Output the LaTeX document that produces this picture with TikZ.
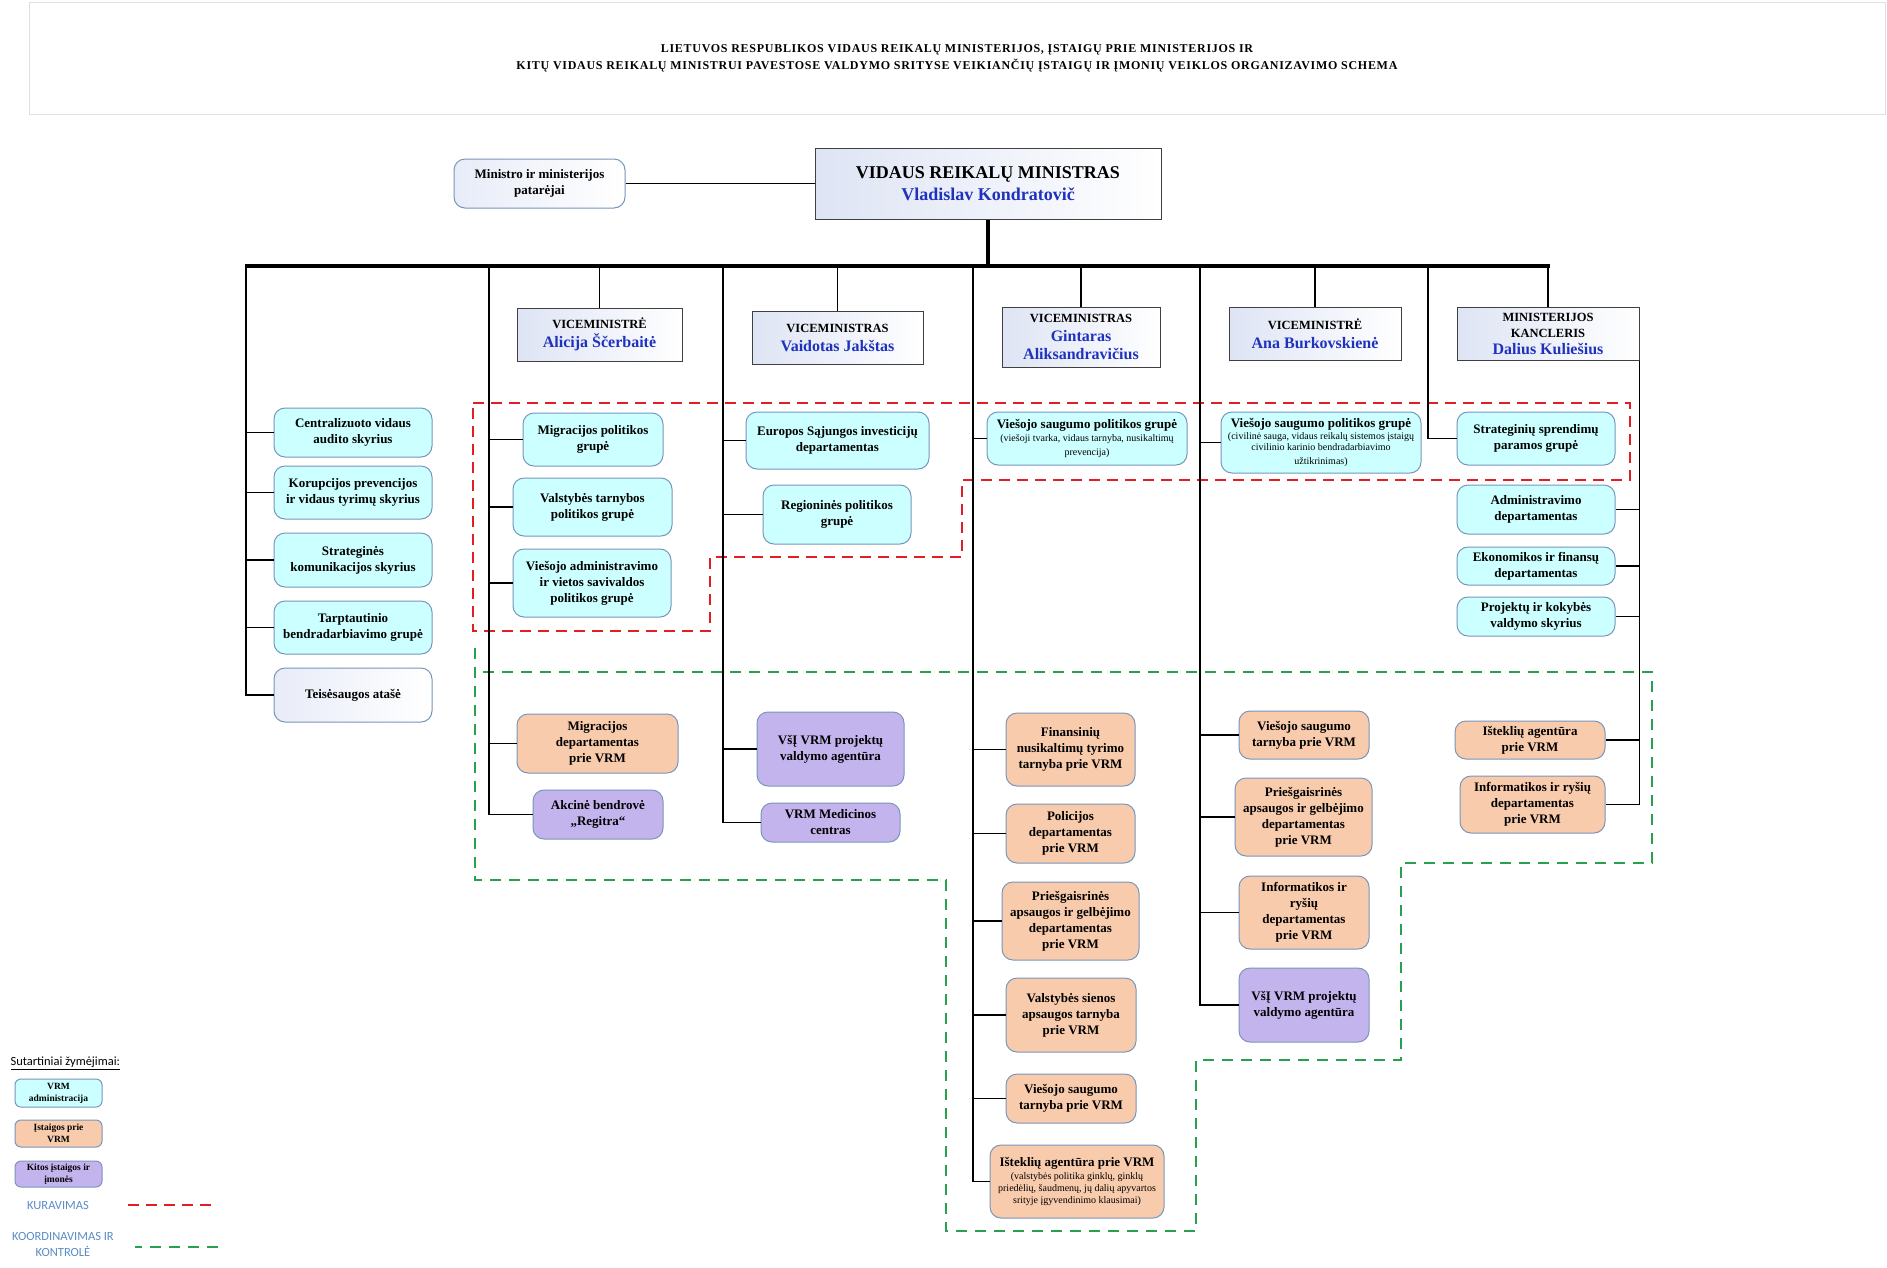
\documentclass[tikz,border=0pt]{standalone}
\usepackage{fontspec}
\setmainfont{Liberation Serif}
\newfontfamily\legfont{Carlito}
\newfontfamily\hdrfont[LetterSpace=6]{Liberation Serif}
\usetikzlibrary{calc}
\definecolor{cyanc}{RGB}{204,255,255}
\definecolor{orc}{RGB}{248,203,172}
\definecolor{purc}{RGB}{196,180,238}
\definecolor{bordc}{RGB}{120,150,185}
\definecolor{namec}{RGB}{30,50,190}
\definecolor{redd}{RGB}{225,30,35}
\definecolor{greend}{RGB}{40,160,80}
\definecolor{legc}{RGB}{90,140,200}
\definecolor{gradc}{RGB}{222,228,244}
\definecolor{gradw}{RGB}{232,236,248}
\newcommand\bxf{\fontsize{13}{16}\selectfont\bfseries}
\newcommand\smf{\fontsize{10}{12}\selectfont\mdseries}
\newcommand\nm[1]{{\color{namec}#1}}
\tikzset{
  obox/.style={rounded corners=11pt, draw=bordc, line width=1pt, align=center, font=\bxf, inner sep=1pt},
  cybox/.style={obox, fill=cyanc},
  orbox/.style={obox, fill=orc},
  pubox/.style={obox, fill=purc},
  whbox/.style={obox, left color=gradw, right color=white},
  vbox/.style={draw=black!75, line width=1pt, left color=gradc, right color=white, align=center, inner sep=1pt},
  conn/.style={line width=1.7pt},
  busl/.style={line width=3.4pt},
  reddash/.style={draw=redd, line width=2pt, dash pattern=on 11pt off 7pt},
  greendash/.style={draw=greend, line width=2pt, dash pattern=on 11pt off 8pt},
  legbox/.style={rounded corners=6pt, draw=bordc, line width=1pt, align=center, inner sep=1pt, font=\fontsize{9.5}{12}\selectfont\bfseries},
}
\begin{document}
\begin{tikzpicture}[x=1pt,y=-1pt]
\useasboundingbox (0,0) rectangle (1887,1267);
\fill[white] (0,0) rectangle (1887,1267);

% header
\node[draw=black!12, line width=1pt, minimum width=1856, minimum height=112, align=center,
  font=\hdrfont\fontsize{12}{17}\selectfont\bfseries] (hdr) at (957,58)
  {LIETUVOS RESPUBLIKOS VIDAUS REIKALŲ MINISTERIJOS, ĮSTAIGŲ PRIE MINISTERIJOS IR\\
   KITŲ VIDAUS REIKALŲ MINISTRUI PAVESTOSE VALDYMO SRITYSE VEIKIANČIŲ ĮSTAIGŲ IR ĮMONIŲ VEIKLOS ORGANIZAVIMO SCHEMA};

% dashed outlines
\draw[reddash] (473,403) -- (1630,403) -- (1630,480) -- (962,480) -- (962,557) -- (710,557) -- (710,631) -- (473,631) -- cycle;
\draw[greendash] (475,648) -- (475,880) -- (946,880) -- (946,1231) -- (1196,1231) -- (1196,1060) -- (1401,1060) -- (1401,863) -- (1652,863) -- (1652,672) -- (480,672);

% minister and advisors
\node[vbox, minimum width=346, minimum height=71, font=\fontsize{18}{22}\selectfont\bfseries] (min) at (988,183.5)
  {VIDAUS REIKALŲ MINISTRAS\\ \nm{Vladislav Kondratovič}};
\node[whbox, minimum width=171, minimum height=49] (adv) at (539.5,183.5) {Ministro ir ministerijos\\patarėjai};

% bus coordinates
\coordinate (b1) at (246,266);
\coordinate (b2) at (489,266);
\coordinate (b3) at (723,266);
\coordinate (b4) at (973,266);
\coordinate (b5) at (1200,266);
\coordinate (b6) at (1428,266);
\coordinate (bend) at (1548,266);

% vice ministers
\tikzset{vt/.style={vbox, font=\fontsize{12.5}{19}\selectfont\bfseries}}
\newcommand\vn[1]{{\fontsize{16}{19}\selectfont\color{namec}#1}}
\node[vt, minimum width=165, minimum height=53] (v1) at (599.5,334.5) {VICEMINISTRĖ\\ \vn{Alicija Ščerbaitė}};
\node[vt, minimum width=171, minimum height=53] (v2) at (837.5,337.5) {VICEMINISTRAS\\ \vn{Vaidotas Jakštas}};
\node[vt, minimum width=158, minimum height=60, font=\fontsize{12.5}{18.5}\selectfont\bfseries] (v3) at (1081,337) {VICEMINISTRAS\\ \vn{Gintaras}\\ \vn{Aliksandravičius}};
\node[vt, minimum width=172, minimum height=53] (v4) at (1315,333.5) {VICEMINISTRĖ\\ \vn{Ana Burkovskienė}};
\node[vt, minimum width=182, minimum height=53, font=\fontsize{12.5}{16.5}\selectfont\bfseries] (v5) at (1548,333.5) {MINISTERIJOS\\KANCLERIS\\ \vn{Dalius Kuliešius}};

% left column
\node[cybox, minimum width=158, minimum height=49] (a1) at (353,432.5) {Centralizuoto vidaus\\audito skyrius};
\node[cybox, minimum width=158, minimum height=53] (a2) at (353,492.5) {Korupcijos prevencijos\\ir vidaus tyrimų skyrius};
\node[cybox, minimum width=158, minimum height=54] (a3) at (353,560) {Strateginės\\komunikacijos skyrius};
\node[cybox, minimum width=158, minimum height=53] (a4) at (353,627.5) {Tarptautinio\\bendradarbiavimo grupė};
\node[whbox, minimum width=158, minimum height=54] (a5) at (353,695) {Teisėsaugos atašė};

% column 2
\node[cybox, minimum width=140, minimum height=53] (c21) at (593,439.5) {Migracijos politikos\\grupė};
\node[cybox, minimum width=159, minimum height=58] (c22) at (592.5,507) {Valstybės tarnybos\\politikos grupė};
\node[cybox, minimum width=158, minimum height=68] (c23) at (592,583) {Viešojo administravimo\\ir vietos savivaldos\\politikos grupė};
\node[orbox, minimum width=161, minimum height=59] (c24) at (597.5,743.5) {Migracijos\\departamentas\\prie VRM};
\node[pubox, minimum width=130, minimum height=49] (c25) at (598,814.5) {Akcinė bendrovė\\„Regitra“};

% column 3
\node[cybox, minimum width=183, minimum height=57] (c31) at (837.5,440.5) {Europos Sąjungos investicijų\\departamentas};
\node[cybox, minimum width=148, minimum height=59] (c32) at (837,514.5) {Regioninės politikos\\grupė};
\node[pubox, minimum width=147, minimum height=74] (c33) at (830.5,749) {VšĮ VRM projektų\\valdymo agentūra};
\node[pubox, minimum width=139, minimum height=39] (c34) at (830.5,822.5) {VRM Medicinos\\centras};

% column 4
\node[cybox, minimum width=200, minimum height=53] (c41) at (1087,438.5) {Viešojo saugumo politikos grupė\\[-3pt] \smf (viešoji tvarka, vidaus tarnyba, nusikaltimų\\[-2pt] \smf prevencija)};
\node[orbox, minimum width=129, minimum height=73] (c42) at (1070.5,749.5) {Finansinių\\nusikaltimų tyrimo\\tarnyba prie VRM};
\node[orbox, minimum width=129, minimum height=59] (c43) at (1070.5,833.5) {Policijos\\departamentas\\prie VRM};
\node[orbox, minimum width=137, minimum height=78] (c44) at (1070.5,921) {Priešgaisrinės\\apsaugos ir gelbėjimo\\departamentas\\prie VRM};
\node[orbox, minimum width=130, minimum height=74] (c45) at (1071,1015) {Valstybės sienos\\apsaugos tarnyba\\prie VRM};
\node[orbox, minimum width=130, minimum height=49] (c46) at (1071,1098.5) {Viešojo saugumo\\tarnyba prie VRM};
\node[orbox, minimum width=174, minimum height=73] (c47) at (1077,1181.5) {Išteklių agentūra prie VRM\\[-3pt] \smf (valstybės politika ginklų, ginklų\\[-4pt] \smf priedėlių, šaudmenų, jų dalių apyvartos\\[-4pt] \smf srityje įgyvendinimo klausimai)};

% column 5
\node[cybox, minimum width=200, minimum height=61] (c51) at (1321,442.5) {Viešojo saugumo politikos grupė\\[-4pt] \smf (civilinė sauga, vidaus reikalų sistemos įstaigų\\[-5pt] \smf civilinio karinio bendradarbiavimo\\[-2pt] \smf užtikrinimas)};
\node[orbox, minimum width=130, minimum height=48] (c52) at (1304,735) {Viešojo saugumo\\tarnyba prie VRM};
\node[orbox, minimum width=137, minimum height=78] (c53) at (1303.5,817) {Priešgaisrinės\\apsaugos ir gelbėjimo\\departamentas\\prie VRM};
\node[orbox, minimum width=130, minimum height=73] (c54) at (1304,912.5) {Informatikos ir\\ryšių\\departamentas\\prie VRM};
\node[pubox, minimum width=130, minimum height=74] (c55) at (1304,1005) {VšĮ VRM projektų\\valdymo agentūra};

% column 6 and chancellor
\node[cybox, minimum width=158, minimum height=53] (c61) at (1536,438.5) {Strateginių sprendimų\\paramos grupė};
\node[cybox, minimum width=158, minimum height=49] (k1) at (1536,509.5) {Administravimo\\departamentas};
\node[cybox, minimum width=158, minimum height=38] (k2) at (1536,566) {Ekonomikos ir finansų\\departamentas};
\node[cybox, minimum width=158, minimum height=39] (k3) at (1536,616.5) {Projektų ir kokybės\\valdymo skyrius};
\node[orbox, minimum width=150, minimum height=38] (k4) at (1530,740) {Išteklių agentūra\\prie VRM};
\node[orbox, minimum width=145, minimum height=57] (k5) at (1532.5,804.5) {Informatikos ir ryšių\\departamentas\\prie VRM};

% connectors
\draw[conn] (adv.east) -- (min.west);
\draw[busl] (min.south) -- (min.south |- b1);
\draw[busl] ($(b1)+(-1.5,0)$) -- ($(bend)+(1.5,0)$);
\foreach \v in {v1,v2,v3,v4,v5} \draw[conn] (\v.north) -- (\v.north |- b1);
\foreach \n in {a1,a2,a3,a4,a5} \draw[conn] (b1) |- (\n.west);
\foreach \n in {c21,c22,c23,c24,c25} \draw[conn] (b2) |- (\n.west);
\foreach \n in {c31,c32,c33,c34} \draw[conn] (b3) |- (\n.west);
\foreach \n in {c41,c42,c43,c44,c45,c46,c47} \draw[conn] (b4) |- (\n.west);
\foreach \n in {c51,c52,c53,c54,c55} \draw[conn] (b5) |- (\n.west);
\draw[conn] (b6) |- (c61.west);
\foreach \n in {k1,k2,k3,k4,k5} \draw[conn] (v5.south east) |- (\n.east);

% legend
\node[anchor=west, font=\legfont\fontsize{12.5}{14}\selectfont] (lgt) at (7,1063) {\underline{Sutartiniai žymėjimai:}};
\node[legbox, fill=cyanc, minimum width=87, minimum height=28] (lg1) at (58.5,1093) {VRM\\administracija};
\node[legbox, fill=orc, minimum width=87, minimum height=27] (lg2) at (58.5,1133.5) {Įstaigos prie\\VRM};
\node[legbox, fill=purc, minimum width=87, minimum height=26] (lg3) at (58.5,1174) {Kitos įstaigos ir\\įmonės};
\node[font=\legfont\fontsize{12.5}{15}\selectfont, text=legc] (lg4) at (58,1205) {KURAVIMAS};
\node[font=\legfont\fontsize{12.5}{16}\selectfont, text=legc, align=center] (lg5) at (63,1244) {KOORDINAVIMAS IR\\KONTROLĖ};
\coordinate (r1) at (128,1205); \coordinate (r2) at (218,1205);
\coordinate (g1) at (135,1247); \coordinate (g2) at (218,1247);
\draw[reddash] (r1) -- (r2);
\draw[greendash] (g2) -- (g1);
\end{tikzpicture}
\end{document}
